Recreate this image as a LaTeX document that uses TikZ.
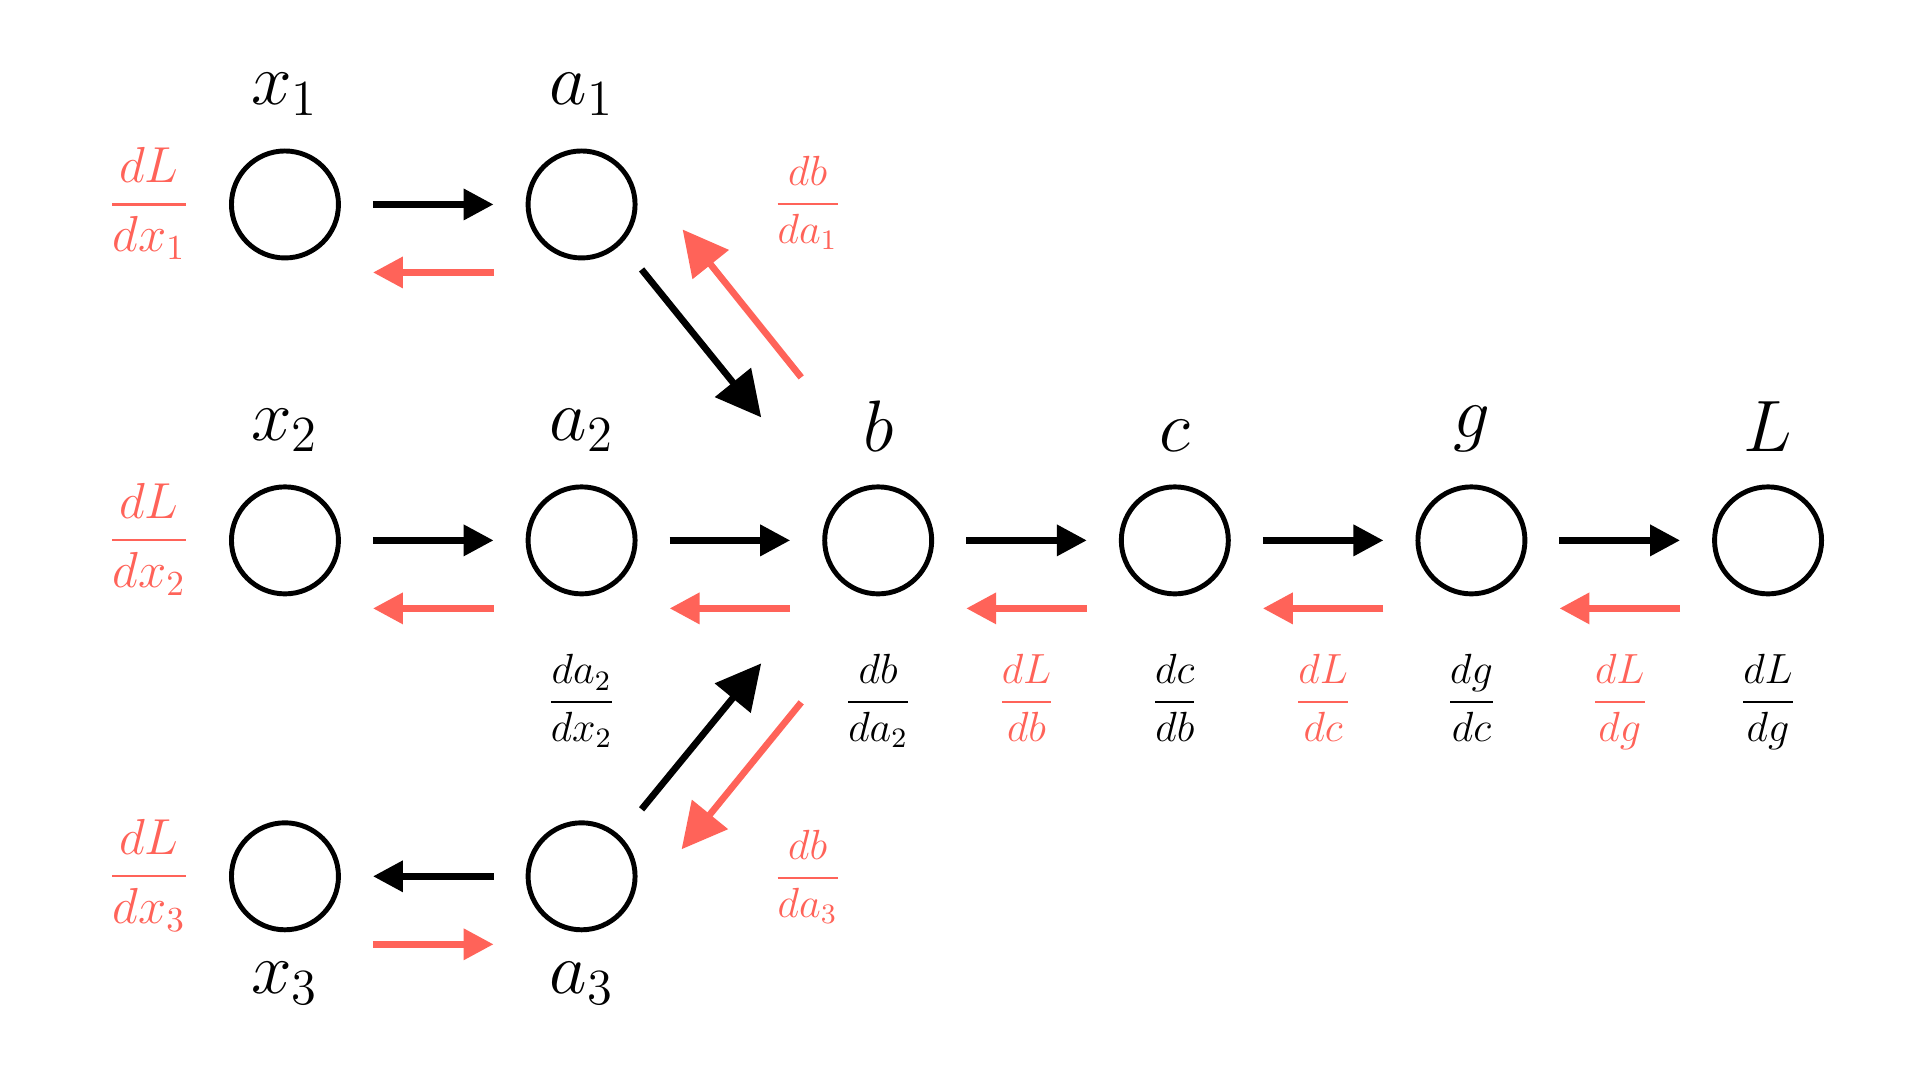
\documentclass[tikz,border=0pt]{standalone}
\usepackage{amsmath}
\usepackage{xcolor}
\usepackage{tikz}
\usetikzlibrary{positioning,arrows.meta,matrix,calc}
\definecolor{gradred}{RGB}{255,99,89}
\tikzset{
  unit/.style={circle,draw,line width=1.4pt,minimum size=1.07cm,inner sep=0pt,outer sep=0pt,anchor=center},
  lbl/.style={font=\huge,inner sep=0pt},
  fwd/.style={line width=1.9pt,-{Triangle[length=0.3cm,width=0.3cm]},shorten <=0.345cm,shorten >=0.345cm},
  bwd/.style={line width=1.9pt,gradred,-{Triangle[length=0.3cm,width=0.3cm]},shorten <=0.88cm,shorten >=0.88cm},
  fwdbig/.style={line width=1.9pt,-{Triangle[length=0.45cm,width=0.45cm]}},
  bwdbig/.style={fwdbig,gradred},
  lfrac/.style={font=\fontsize{14.5}{17}\selectfont,text=gradred,inner sep=0pt,anchor=base},
  sfrac/.style={font=\fontsize{11.5}{14}\selectfont,inner sep=0pt,anchor=base},
}
\begin{document}
\begin{tikzpicture}
  \useasboundingbox (0,0) rectangle (19.2,-10.8);
  \matrix (net) [matrix of nodes,nodes={unit},column sep=1.847cm,row sep=2.24cm,inner sep=0pt,outer sep=0pt,anchor=north west] at (2.29,-1.485) {
    |(x1)| {} & |(a1)| {} \\
    |(x2)| {} & |(a2)| {} & |(b)| {} & |(c)| {} & |(g)| {} & |(L)| {} \\
    |(x3)| {} & |(a3)| {} \\
  };
  % names
  \foreach \n/\t in {x1/x_1, a1/a_1, x2/x_2, a2/a_2, b/b, c/c, g/g, L/L}
    \node[lbl, above=0.345cm of \n] (t\n) {$\t$};
  \foreach \n/\t in {x3/x_3, a3/a_3}
    \node[lbl, below=0.315cm of \n] (t\n) {$\t$};
  % forward pass
  \foreach \s/\e in {x1/a1, x2/a2, a2/b, b/c, c/g, g/L, a3/x3}
    \draw[fwd] (\s) -- (\e);
  \draw[fwdbig] ([shift={(0.60,-0.65)}]a1.center) -- ([shift={(-1.17,1.23)}]b.center);
  \draw[fwdbig] ([shift={(0.60,0.67)}]a3.center) -- ([shift={(-1.17,-1.23)}]b.center);
  % backward pass
  \foreach \s/\e in {a1/x1, a2/x2, b/a2, c/b, g/c, L/g, x3/a3}
    \draw[bwd] ([yshift=-0.68cm]\s.center) -- ([yshift=-0.68cm]\e.center);
  \draw[bwdbig] ([shift={(-0.77,1.63)}]b.center) -- ([shift={(1.01,-0.25)}]a1.center);
  \draw[bwdbig] ([shift={(-0.77,-1.62)}]b.center) -- ([shift={(1.00,0.27)}]a3.center);
  % gradients
  \foreach \n in {1,2,3}
    \node[lfrac] (dLdx\n) at ($(x\n)+(-1.36,-0.127)$) {$\dfrac{dL}{dx_\n}$};
  \node[sfrac, text=gradred] (dbda1) at ($(a1)+(2.26,-0.10)$) {$\dfrac{db}{da_1}$};
  \node[sfrac, text=gradred] (dbda3) at ($(a3)+(2.26,-0.12)$) {$\dfrac{db}{da_3}$};
  \foreach \n/\num/\den in {a2/da_2/dx_2, b/db/da_2, c/dc/db, g/dg/dc, L/dL/dg}
    \node[sfrac] (f\n) at ($(\n)+(0,-1.72)$) {$\dfrac{\num}{\den}$};
  \foreach \p/\q/\den in {b/c/db, c/g/dc, g/L/dg}
    \node[sfrac, text=gradred] (r\p) at ($(\p)!0.5!(\q)+(0,-1.72)$) {$\dfrac{dL}{\den}$};
\end{tikzpicture}
\end{document}
